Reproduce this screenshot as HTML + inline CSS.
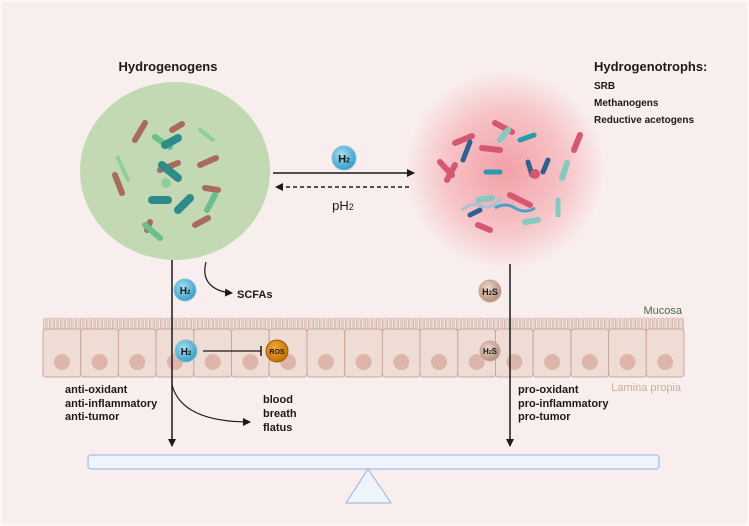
<!DOCTYPE html>
<html><head><meta charset="utf-8"><style>
html,body{margin:0;padding:0;background:#f9eeee}
svg{display:block}
text{font-family:"Liberation Sans",sans-serif;fill:#1a1a1a}
.b{font-weight:bold}
</style></head><body>
<svg width="749" height="526" viewBox="0 0 749 526" xmlns="http://www.w3.org/2000/svg">
<defs>
<radialGradient id="pk" cx="50%" cy="50%" r="50%">
<stop offset="0" stop-color="#f2a0a6"/><stop offset="0.6" stop-color="#f6c4c7"/><stop offset="1" stop-color="#f9eeee"/>
</radialGradient>
<radialGradient id="bl" cx="40%" cy="35%" r="65%"><stop offset="0" stop-color="#a6dcf0"/><stop offset="1" stop-color="#3a9fc8"/></radialGradient>
<radialGradient id="br" cx="40%" cy="35%" r="65%"><stop offset="0" stop-color="#ecd8cc"/><stop offset="1" stop-color="#b58f7c"/></radialGradient>
<radialGradient id="or" cx="40%" cy="35%" r="65%"><stop offset="0" stop-color="#f0a838"/><stop offset="1" stop-color="#c87008"/></radialGradient>
<marker id="ar" markerWidth="8" markerHeight="8" refX="7" refY="4" orient="auto" markerUnits="userSpaceOnUse"><path d="M0,0 L8,4 L0,8z" fill="#1a1a1a"/></marker>
<pattern id="mv" patternUnits="userSpaceOnUse" x="43" y="317" width="3.7" height="14">
<path d="M0.4,14 V2 q1.2,-2.2 2.4,0 V14" fill="#f3e3dd" stroke="#c9a99c" stroke-width="0.7"/>
</pattern>
</defs>
<rect x="0" y="0" width="749" height="526" fill="#f9eeee"/>
<rect x="1" y="1" width="747" height="524" fill="none" stroke="#fdf6f6" stroke-width="2"/>

<text x="168" y="71" class="b" font-size="13" text-anchor="middle">Hydrogenogens</text>
<text x="594" y="71" class="b" font-size="13">Hydrogenotrophs:</text>
<text x="594" y="89" class="b" font-size="10">SRB</text>
<text x="594" y="106" class="b" font-size="10">Methanogens</text>
<text x="594" y="123" class="b" font-size="10">Reductive acetogens</text>

<ellipse cx="175" cy="171" rx="95" ry="89" fill="#c3d9b3"/>
<circle cx="505" cy="170" r="100" fill="url(#pk)"/>

<g stroke-linecap="round" stroke-width="6">
<line x1="135" y1="140" x2="145" y2="123" stroke="#a86c5c"/>
<line x1="172" y1="130" x2="182" y2="124" stroke="#a86c5c"/>
<line x1="115" y1="175" x2="122" y2="193" stroke="#a86c5c"/>
<line x1="160" y1="170" x2="178" y2="163" stroke="#a86c5c"/>
<line x1="200" y1="165" x2="216" y2="158" stroke="#a86c5c"/>
<line x1="205" y1="188" x2="218" y2="190" stroke="#a86c5c"/>
<line x1="195" y1="225" x2="208" y2="218" stroke="#a86c5c"/>
<line x1="147" y1="230" x2="150" y2="222" stroke="#a86c5c"/>
<line x1="155" y1="137" x2="170" y2="147" stroke="#6cbf8c"/>
<line x1="162" y1="165" x2="178" y2="178" stroke="#2f8a8a" stroke-width="8"/>
<line x1="152" y1="200" x2="168" y2="200" stroke="#2f8a8a" stroke-width="8"/>
<line x1="178" y1="210" x2="190" y2="198" stroke="#2f8a8a" stroke-width="8"/>
<line x1="165" y1="145" x2="178" y2="138" stroke="#2f8a8a" stroke-width="8"/>
<line x1="145" y1="225" x2="160" y2="238" stroke="#6cbf8c"/>
<line x1="207" y1="210" x2="215" y2="195" stroke="#6cbf8c"/>
<line x1="118" y1="158" x2="128" y2="180" stroke="#8fce9e" stroke-width="4"/>
<line x1="200" y1="130" x2="213" y2="140" stroke="#8fce9e" stroke-width="4"/>
</g>
<circle cx="166" cy="183" r="5" fill="#8fce9e"/>
<g stroke-linecap="round" stroke-width="6">
<line x1="455" y1="143" x2="472" y2="136" stroke="#d65870"/>
<line x1="495" y1="123" x2="512" y2="132" stroke="#d65870"/>
<line x1="463" y1="160" x2="470" y2="142" stroke="#2f6190" stroke-width="5"/>
<line x1="440" y1="162" x2="452" y2="175" stroke="#d65870"/>
<line x1="447" y1="180" x2="455" y2="165" stroke="#d65870"/>
<line x1="482" y1="148" x2="500" y2="150" stroke="#d65870"/>
<line x1="486" y1="172" x2="500" y2="172" stroke="#2a9ab0" stroke-width="5"/>
<line x1="520" y1="140" x2="534" y2="135" stroke="#2a9ab0" stroke-width="5"/>
<line x1="528" y1="162" x2="532" y2="175" stroke="#2f6190" stroke-width="5"/>
<line x1="543" y1="172" x2="548" y2="160" stroke="#2f6190" stroke-width="5"/>
<line x1="574" y1="150" x2="580" y2="135" stroke="#d65870"/>
<line x1="562" y1="178" x2="567" y2="163" stroke="#88c8c0"/>
<line x1="478" y1="200" x2="492" y2="198" stroke="#88c8c0"/>
<line x1="510" y1="195" x2="530" y2="205" stroke="#d65870"/>
<line x1="478" y1="225" x2="490" y2="230" stroke="#d65870"/>
<line x1="470" y1="215" x2="480" y2="210" stroke="#2f6190" stroke-width="5"/>
<line x1="525" y1="222" x2="538" y2="220" stroke="#88c8c0"/>
<line x1="558" y1="200" x2="558" y2="215" stroke="#88c8c0" stroke-width="5"/>
<line x1="500" y1="140" x2="508" y2="130" stroke="#88c8c0"/>
</g>
<circle cx="535" cy="174" r="5" fill="#d65870"/>
<path d="M462,210 q10,-8 20,-4 t20,-8" stroke="#a8c4d4" stroke-width="3" fill="none"/>
<path d="M495,208 q10,-6 20,0 t20,0" stroke="#4aa0c8" stroke-width="3" fill="none"/>

<line x1="273" y1="173" x2="414" y2="173" stroke="#1a1a1a" stroke-width="1.5" marker-end="url(#ar)"/>
<line x1="409" y1="187" x2="276" y2="187" stroke="#1a1a1a" stroke-width="1.5" stroke-dasharray="4,3" marker-end="url(#ar)"/>
<circle cx="344" cy="158" r="12" fill="url(#bl)" stroke="#7fc3dd" stroke-width="1"/>
<text x="344" y="162.5" class="b" font-size="11" text-anchor="middle">H<tspan font-size="7">2</tspan></text>
<text x="343" y="210" font-size="13" text-anchor="middle">pH<tspan font-size="9">2</tspan></text>

<!-- cells -->
<rect x="43" y="317" width="641" height="14" fill="url(#mv)"/>
<g fill="#efdcd5" stroke="#c9a99c" stroke-width="1">
<rect x="43" y="329" width="37.7" height="48" rx="3"/>
<rect x="80.7" y="329" width="37.7" height="48" rx="3"/>
<rect x="118.4" y="329" width="37.7" height="48" rx="3"/>
<rect x="156.1" y="329" width="37.7" height="48" rx="3"/>
<rect x="193.8" y="329" width="37.7" height="48" rx="3"/>
<rect x="231.5" y="329" width="37.7" height="48" rx="3"/>
<rect x="269.2" y="329" width="37.7" height="48" rx="3"/>
<rect x="307.0" y="329" width="37.7" height="48" rx="3"/>
<rect x="344.7" y="329" width="37.7" height="48" rx="3"/>
<rect x="382.4" y="329" width="37.7" height="48" rx="3"/>
<rect x="420.1" y="329" width="37.7" height="48" rx="3"/>
<rect x="457.8" y="329" width="37.7" height="48" rx="3"/>
<rect x="495.5" y="329" width="37.7" height="48" rx="3"/>
<rect x="533.2" y="329" width="37.7" height="48" rx="3"/>
<rect x="570.9" y="329" width="37.7" height="48" rx="3"/>
<rect x="608.6" y="329" width="37.7" height="48" rx="3"/>
<rect x="646.3" y="329" width="37.7" height="48" rx="3"/>
</g>
<g fill="#deb5aa">
<circle cx="61.9" cy="362" r="8"/><circle cx="99.6" cy="362" r="8"/><circle cx="137.3" cy="362" r="8"/>
<circle cx="175.0" cy="362" r="8"/><circle cx="212.7" cy="362" r="8"/><circle cx="250.4" cy="362" r="8"/>
<circle cx="288.1" cy="362" r="8"/><circle cx="325.9" cy="362" r="8"/><circle cx="363.6" cy="362" r="8"/>
<circle cx="401.3" cy="362" r="8"/><circle cx="439.0" cy="362" r="8"/><circle cx="476.7" cy="362" r="8"/>
<circle cx="514.4" cy="362" r="8"/><circle cx="552.1" cy="362" r="8"/><circle cx="589.8" cy="362" r="8"/>
<circle cx="627.5" cy="362" r="8"/><circle cx="665.2" cy="362" r="8"/>
</g>
<text x="682" y="314" font-size="11" text-anchor="end" style="fill:#3f6e3f">Mucosa</text>
<text x="681" y="391" font-size="11" text-anchor="end" style="fill:#c8b096">Lamina propia</text>

<line x1="172" y1="260" x2="172" y2="446" stroke="#1a1a1a" stroke-width="1.5" marker-end="url(#ar)"/>
<line x1="510" y1="264" x2="510" y2="446" stroke="#1a1a1a" stroke-width="1.5" marker-end="url(#ar)"/>
<path d="M206,262 C200,285 218,292 232,293" fill="none" stroke="#1a1a1a" stroke-width="1.2" marker-end="url(#ar)"/>
<text x="237" y="298" class="b" font-size="11">SCFAs</text>
<path d="M172,385 C180,415 215,422 250,422" fill="none" stroke="#1a1a1a" stroke-width="1.2" marker-end="url(#ar)"/>

<circle cx="185" cy="290" r="11" fill="url(#bl)" stroke="#7fc3dd"/>
<text x="185" y="294" class="b" font-size="10" text-anchor="middle">H<tspan font-size="6">2</tspan></text>
<circle cx="186" cy="351" r="11" fill="url(#bl)" stroke="#7fc3dd"/>
<text x="186" y="355" class="b" font-size="10" text-anchor="middle">H<tspan font-size="6">2</tspan></text>
<line x1="203" y1="351" x2="261" y2="351" stroke="#1a1a1a" stroke-width="1.2"/>
<line x1="261" y1="346" x2="261" y2="356" stroke="#1a1a1a" stroke-width="1.5"/>
<circle cx="277" cy="351" r="11" fill="url(#or)" stroke="#a05a00"/>
<text x="277" y="354" class="b" font-size="7" text-anchor="middle">ROS</text>
<circle cx="490" cy="291" r="11" fill="url(#br)" stroke="#c8a898"/>
<text x="490" y="295" class="b" font-size="9" text-anchor="middle">H<tspan font-size="6">2</tspan>S</text>
<circle cx="490" cy="351" r="10" fill="url(#br)" stroke="#c8a898"/>
<text x="490" y="354" class="b" font-size="8" text-anchor="middle">H<tspan font-size="5">2</tspan>S</text>

<g class="b" font-size="11">
<text x="65" y="393">anti-oxidant</text>
<text x="65" y="407">anti-inflammatory</text>
<text x="65" y="420">anti-tumor</text>
<text x="263" y="403">blood</text>
<text x="263" y="417">breath</text>
<text x="263" y="431">flatus</text>
<text x="518" y="393">pro-oxidant</text>
<text x="518" y="407">pro-inflammatory</text>
<text x="518" y="420">pro-tumor</text>
</g>

<rect x="88" y="455" width="571" height="14" rx="3" fill="#eef4fc" stroke="#a9bddd" stroke-width="1.2"/>
<path d="M368,469 L391,503 L346,503 Z" fill="#eef4fc" stroke="#a9bddd" stroke-width="1.2" stroke-linejoin="round"/>
</svg>
</body></html>
